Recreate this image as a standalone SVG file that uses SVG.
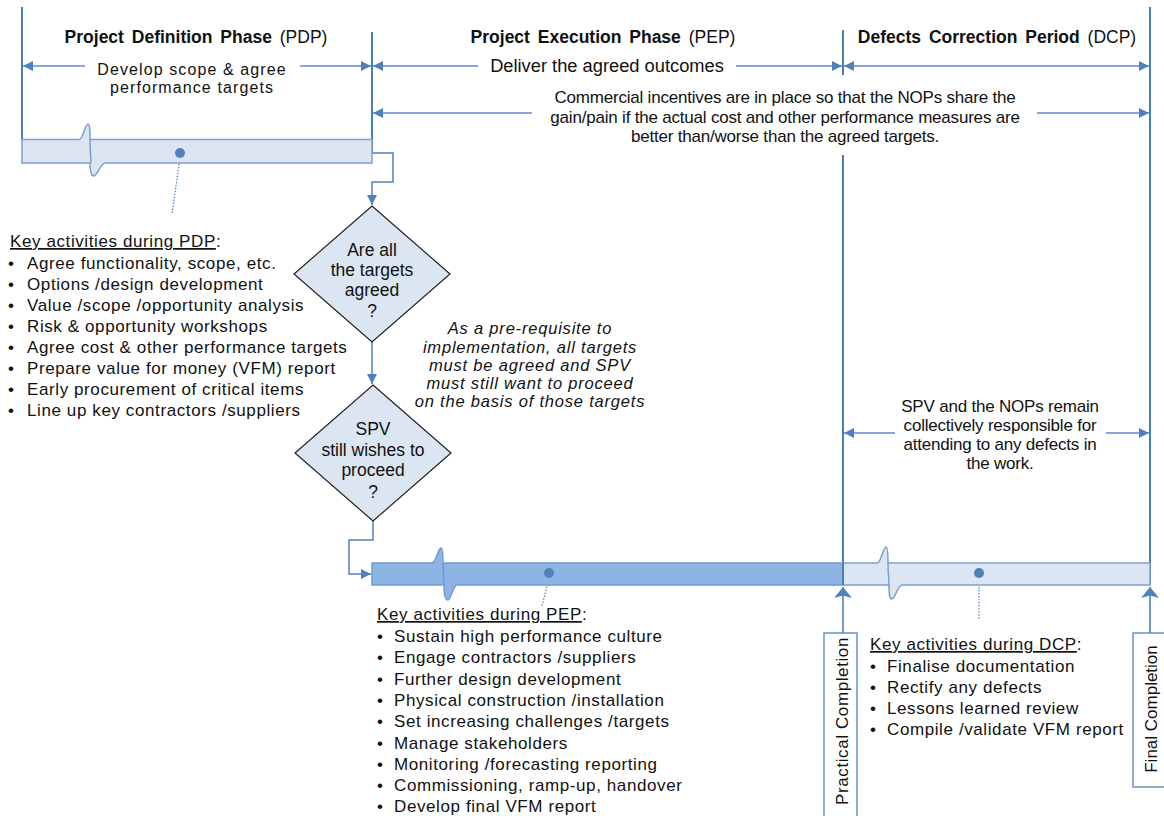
<svg xmlns="http://www.w3.org/2000/svg" width="1164" height="816" viewBox="0 0 1164 816">
  <style>
    text { font-family: "Liberation Sans", Arial, sans-serif; fill: #111; }
    .title { font-size: 17.5px; word-spacing: 3px; }
    .lbl { font-size: 18.3px; }
    .lbl2 { font-size: 16px; letter-spacing: 1.1px; }
    .ms { font-size: 17px; }
    .note { font-size: 17px; letter-spacing: -0.2px; }
    .ital { font-size: 16.5px; font-style: italic; letter-spacing: 0.8px; }
    .list { font-size: 17px; letter-spacing: 0.6px; }
    .dtext { font-size: 17.5px; }
    .phase { stroke: #4a7ebb; stroke-width: 2; fill: none; }
    .arr { stroke: #5b8bd0; stroke-width: 1.6; fill: none; marker-end: url(#head); }
    .conn { stroke: #4f81bd; stroke-width: 1.5; fill: none; marker-end: url(#head); }
    .bar-light { fill: #dce6f2; stroke: #7f9fd0; stroke-width: 1.5; }
    .bar-dark { fill: #8eb4e3; stroke: #6c9bd2; stroke-width: 1.5; }
    .dot { fill: #4f81bd; }
    .dotted { stroke: #4f81bd; stroke-width: 1.2; stroke-dasharray: 1.5 1.5; fill: none; }
    .decision { fill: #dce6f2; stroke: #222; stroke-width: 1.2; }
    .milestone { fill: #fff; stroke: #4f81bd; stroke-width: 1.3; }
    .ms-arrow { stroke: #4f81bd; stroke-width: 1.6; fill: none; marker-end: url(#notch); }
  </style>
  <defs>
    <marker id="head" viewBox="0 0 10 10" refX="10" refY="5" markerWidth="11" markerHeight="10" markerUnits="userSpaceOnUse" orient="auto">
      <path d="M0,0 L10,5 L0,10 z" fill="#4f81bd"/>
    </marker>
    <marker id="notch" viewBox="0 0 11 18" refX="11" refY="9" markerWidth="11" markerHeight="18" markerUnits="userSpaceOnUse" orient="auto">
      <path d="M0,0 L11,9 L0,18 L2.5,9 z" fill="#4f81bd"/>
    </marker>
  </defs>

  <!-- phase boundaries and scope arrows -->
  <g id="connectors">
    <line class="phase" x1="22" y1="7" x2="22" y2="140"/>
    <line class="phase" x1="372" y1="32" x2="372" y2="153"/>
    <line class="phase" x1="843" y1="30" x2="843" y2="75"/>
    <line class="phase" x1="843" y1="155" x2="843" y2="585"/>
    <line class="phase" x1="1150" y1="7" x2="1150" y2="585"/>

    <!-- row 1: phase spans -->
    <line class="arr" x1="85" y1="66" x2="23" y2="66"/>
    <line class="arr" x1="300" y1="66" x2="371" y2="66"/>
    <line class="arr" x1="478" y1="66" x2="373" y2="66"/>
    <line class="arr" x1="736" y1="66" x2="842" y2="66"/>
    <line class="arr" x1="1000" y1="66" x2="844" y2="66"/>
    <line class="arr" x1="1000" y1="66" x2="1149" y2="66"/>

    <!-- row 2: commercial incentive span -->
    <line class="arr" x1="532" y1="113" x2="373" y2="113"/>
    <line class="arr" x1="1037" y1="113" x2="1149" y2="113"/>

    <!-- DCP responsibility span -->
    <line class="arr" x1="895" y1="433" x2="844" y2="433"/>
    <line class="arr" x1="1106" y1="433" x2="1149" y2="433"/>

    <!-- flow: PDP bar to decisions to PEP bar -->
    <path class="conn" d="M372,153 H393 V182 H372 V205"/>
    <path class="conn" d="M372,342 V384"/>
    <path class="conn" d="M373,521 V540 H349 V574 H371"/>

    <!-- milestone pointers -->
    <line class="ms-arrow" x1="843" y1="633" x2="843" y2="587"/>
    <line class="ms-arrow" x1="1150" y1="633" x2="1150" y2="587"/>

    <!-- callout leaders -->
    <line class="dotted" x1="180" y1="158" x2="172" y2="214"/>
    <line class="dotted" x1="549" y1="578" x2="542" y2="606"/>
    <line class="dotted" x1="979" y1="578" x2="979" y2="620"/>
  </g>

  <!-- phase titles -->
  <g id="titles">
    <text class="title" x="196" y="43" text-anchor="middle"><tspan font-weight="bold">Project Definition Phase</tspan> (PDP)</text>
    <text class="title" x="603" y="43" text-anchor="middle"><tspan font-weight="bold">Project Execution Phase</tspan> (PEP)</text>
    <text class="title" x="997" y="43" text-anchor="middle"><tspan font-weight="bold">Defects Correction Period</tspan> (DCP)</text>
  </g>

  <g id="span-labels">
    <text class="lbl2" x="192" y="74.5" text-anchor="middle">Develop scope &amp; agree</text>
    <text class="lbl2" x="192" y="93" text-anchor="middle">performance targets</text>
    <text class="lbl" x="607" y="72" text-anchor="middle">Deliver the agreed outcomes</text>
    <text class="note" x="785" y="103" text-anchor="middle">Commercial incentives are in place so that the NOPs share the</text>
    <text class="note" x="785" y="123" text-anchor="middle">gain/pain if the actual cost and other performance measures are</text>
    <text class="note" x="785" y="142" text-anchor="middle">better than/worse than the agreed targets.</text>
    <text class="note" x="1000" y="412" text-anchor="middle">SPV and the NOPs remain</text>
    <text class="note" x="1000" y="431" text-anchor="middle">collectively responsible for</text>
    <text class="note" x="1000" y="450" text-anchor="middle">attending to any defects in</text>
    <text class="note" x="1000" y="469" text-anchor="middle">the work.</text>
  </g>

  <!-- PDP timeline bar -->
  <g id="bar-pdp">
    <path class="bar-light" d="M22,139.5 H79 C83,139.5 85,124 88,124 C90,124 90,132 90,139.5 H372 V163 H105 C101,163 97,176 94,176 C91,176 90,170 90,163 H22 Z"/>
    <path d="M90,139.5 C90,150 91,158 91,163" stroke="#7f9fd0" stroke-width="1.5" fill="none"/>
    <circle class="dot" cx="180" cy="153" r="5"/>
  </g>

  <!-- PEP timeline bar -->
  <g id="bar-pep">
    <path class="bar-dark" d="M372,563 H432 C436,563 438,548 441,548 C443,548 443,556 443,563 H843 V585 H457 C453,585 451,600 448,600 C445,600 444,593 444,585 H372 Z"/>
    <path d="M443,563 C443,573 444,580 444,585" stroke="#6c9bd2" stroke-width="1.5" fill="none"/>
    <circle class="dot" cx="549" cy="573" r="5"/>
  </g>

  <!-- DCP timeline bar -->
  <g id="bar-dcp">
    <path class="bar-light" d="M843,563 H877 C881,563 883,547 886,547 C888,547 888,556 888,563 H1150 V585 H902 C898,585 895,599 892,599 C889,599 889,592 889,585 H843 Z"/>
    <path d="M888,563 C888,573 889,580 889,585" stroke="#7f9fd0" stroke-width="1.5" fill="none"/>
    <line x1="843" y1="563" x2="843" y2="585" stroke="#4a7ebb" stroke-width="2"/>
    <circle class="dot" cx="979" cy="573" r="5"/>
  </g>

  <!-- decision: targets agreed -->
  <g id="decision-targets">
    <polygon class="decision" points="372,206 450,274 372,342 294,274"/>
    <text class="dtext" x="372" y="256" text-anchor="middle">Are all</text>
    <text class="dtext" x="372" y="276" text-anchor="middle">the targets</text>
    <text class="dtext" x="372" y="296" text-anchor="middle">agreed</text>
    <text class="dtext" x="372" y="317" text-anchor="middle">?</text>
  </g>

  <!-- decision: SPV proceeds -->
  <g id="decision-proceed">
    <polygon class="decision" points="373,385 451,453 373,521 295,453"/>
    <text class="dtext" x="373" y="435" text-anchor="middle">SPV</text>
    <text class="dtext" x="373" y="456" text-anchor="middle">still wishes to</text>
    <text class="dtext" x="373" y="476" text-anchor="middle">proceed</text>
    <text class="dtext" x="373" y="498" text-anchor="middle">?</text>
  </g>

  <g id="prerequisite-note">
    <text class="ital" x="530" y="334" text-anchor="middle">As a pre-requisite to</text>
    <text class="ital" x="530" y="353" text-anchor="middle">implementation, all targets</text>
    <text class="ital" x="530" y="371" text-anchor="middle">must be agreed and SPV</text>
    <text class="ital" x="530" y="389" text-anchor="middle">must still want to proceed</text>
    <text class="ital" x="530" y="407" text-anchor="middle">on the basis of those targets</text>
  </g>

  <!-- activity lists -->
  <g id="list-pdp">
    <text class="list" x="10" y="247"><tspan text-decoration="underline">Key activities during PDP</tspan>:</text>
    <text class="list" x="8" y="269">•</text><text class="list" x="27" y="269">Agree functionality, scope, etc.</text>
    <text class="list" x="8" y="290">•</text><text class="list" x="27" y="290">Options /design development</text>
    <text class="list" x="8" y="311">•</text><text class="list" x="27" y="311">Value /scope /opportunity analysis</text>
    <text class="list" x="8" y="332">•</text><text class="list" x="27" y="332">Risk &amp; opportunity workshops</text>
    <text class="list" x="8" y="353">•</text><text class="list" x="27" y="353">Agree cost &amp; other performance targets</text>
    <text class="list" x="8" y="374">•</text><text class="list" x="27" y="374">Prepare value for money (VFM) report</text>
    <text class="list" x="8" y="395">•</text><text class="list" x="27" y="395">Early procurement of critical items</text>
    <text class="list" x="8" y="416">•</text><text class="list" x="27" y="416">Line up key contractors /suppliers</text>
  </g>

  <g id="list-pep">
    <text class="list" x="377" y="620"><tspan text-decoration="underline">Key activities during PEP</tspan>:</text>
    <text class="list" x="377" y="642">•</text><text class="list" x="394" y="642">Sustain high performance culture</text>
    <text class="list" x="377" y="663.3">•</text><text class="list" x="394" y="663.3">Engage contractors /suppliers</text>
    <text class="list" x="377" y="684.6">•</text><text class="list" x="394" y="684.6">Further design development</text>
    <text class="list" x="377" y="705.9">•</text><text class="list" x="394" y="705.9">Physical construction /installation</text>
    <text class="list" x="377" y="727.2">•</text><text class="list" x="394" y="727.2">Set increasing challenges /targets</text>
    <text class="list" x="377" y="748.5">•</text><text class="list" x="394" y="748.5">Manage stakeholders</text>
    <text class="list" x="377" y="769.8">•</text><text class="list" x="394" y="769.8">Monitoring /forecasting reporting</text>
    <text class="list" x="377" y="791.1">•</text><text class="list" x="394" y="791.1">Commissioning, ramp-up, handover</text>
    <text class="list" x="377" y="812.4">•</text><text class="list" x="394" y="812.4">Develop final VFM report</text>
  </g>

  <g id="list-dcp">
    <text class="list" x="870" y="650"><tspan text-decoration="underline">Key activities during DCP</tspan>:</text>
    <text class="list" x="870" y="671.5">•</text><text class="list" x="887" y="671.5">Finalise documentation</text>
    <text class="list" x="870" y="692.5">•</text><text class="list" x="887" y="692.5">Rectify any defects</text>
    <text class="list" x="870" y="713.5">•</text><text class="list" x="887" y="713.5">Lessons learned review</text>
    <text class="list" x="870" y="734.5">•</text><text class="list" x="887" y="734.5">Compile /validate VFM report</text>
  </g>

  <!-- milestones -->
  <g id="milestone-practical">
    <rect class="milestone" x="824" y="633" width="33" height="190"/>
    <text class="ms" transform="translate(848,721) rotate(-90)" text-anchor="middle" letter-spacing="0.6">Practical Completion</text>
  </g>
  <g id="milestone-final">
    <rect class="milestone" x="1133" y="633" width="40" height="154"/>
    <text class="ms" transform="translate(1157,709) rotate(-90)" text-anchor="middle">Final Completion</text>
  </g>
</svg>
